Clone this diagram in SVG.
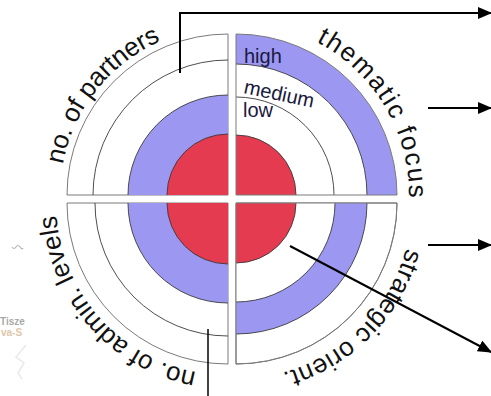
<svg xmlns="http://www.w3.org/2000/svg" width="491" height="396" viewBox="0 0 491 396">
<style>
.q{fill:#fff;stroke:#7a7a7a;stroke-width:1}
.blue{fill:#9c98f2}
.red{fill:#e53b51}
.arc{fill:none;stroke:#3a3a3a;stroke-width:0.9}
.lbl{font-family:"Liberation Sans",Arial,sans-serif;font-size:26px;fill:#111}
.sm{font-family:"Liberation Sans",Arial,sans-serif;font-size:20px;fill:#1a1a40}
.con{fill:none;stroke:#000;stroke-width:2}
.faint{font-family:"Liberation Sans",Arial,sans-serif;font-size:10px;font-weight:bold}
</style>
<defs>
<marker id="ah" markerUnits="userSpaceOnUse" markerWidth="14" markerHeight="12" refX="13" refY="6" orient="auto">
<path d="M0,0 L14,6 L0,12 Z" fill="#000"/>
</marker>
<path id="tp1" d="M62.8,164.4 A168,168 0 0 1 242.6,27.6"/>
<path id="tp2" d="M316.2,41.7 A173,173 0 0 1 398.6,254.2"/>
<path id="tp3" d="M406.1,248.3 A176,176 0 0 1 205.4,376.3"/>
<path id="tp4" d="M196.4,372.1 A172,172 0 0 1 56.7,188"/>
</defs>

<g id="background-fragments" opacity="0.75">
<path d="M12,247 q2,3 4,0 q2,-3 4,0 q2,3 3,1" fill="none" stroke="#9a9a9a" stroke-width="1.2"/>
<text class="faint" x="0" y="325" fill="#8c8c8c">Tisze</text>
<text class="faint" x="1" y="336" fill="#d2b48c">va-S</text>
<path d="M26,345 l-10,12 l8,6 l-6,10 l4,6" fill="none" stroke="#e2e2e2" stroke-width="1.5"/>
</g>

<g id="quadrant-partners" transform="translate(228,195)">
<path class="q" d="M0,0 H-161 A161,161 0 0 1 0,-161 Z"/>
<path class="arc" d="M-135,0 A135,135 0 0 1 0,-135"/>
<path class="blue" d="M0,0 H-100 A100,100 0 0 1 0,-100 Z"/>
<path class="arc" d="M-100,0 A100,100 0 0 1 0,-100"/>
<path class="red" d="M0,0 H-61 A61,61 0 0 1 0,-61 Z"/>
<path class="arc" d="M-61,0 A61,61 0 0 1 0,-61"/>
</g>

<g id="quadrant-thematic" transform="translate(236,195) scale(-1,1)">
<path class="blue" d="M0,0 H-161 A161,161 0 0 1 0,-161 Z"/>
<path d="M0,0 H-131 A131,131 0 0 1 0,-131 Z" fill="#fff"/>
<path class="arc" d="M-131,0 A131,131 0 0 1 0,-131"/>
<path class="arc" d="M-98,0 A98,98 0 0 1 0,-98"/>
<path class="red" d="M0,0 H-60 A60,60 0 0 1 0,-60 Z"/>
<path class="arc" d="M-60,0 A60,60 0 0 1 0,-60"/>
<path d="M0,0 H-161 A161,161 0 0 1 0,-161 Z" fill="none" stroke="#7a7a7a" stroke-width="1"/>
</g>

<g id="quadrant-admin" transform="translate(228,203) scale(1,-1)">
<path class="q" d="M0,0 H-161 A161,161 0 0 1 0,-161 Z"/>
<path class="arc" d="M-133,0 A133,133 0 0 1 0,-133"/>
<path class="blue" d="M0,0 H-100 A100,100 0 0 1 0,-100 Z"/>
<path class="arc" d="M-100,0 A100,100 0 0 1 0,-100"/>
<path class="red" d="M0,0 H-61 A61,61 0 0 1 0,-61 Z"/>
<path class="arc" d="M-61,0 A61,61 0 0 1 0,-61"/>
</g>

<g id="quadrant-strategic" transform="translate(236,203) scale(-1,-1)">
<path class="q" d="M0,0 H-161 A161,161 0 0 1 0,-161 Z"/>
<path class="blue" d="M0,0 H-131 A131,131 0 0 1 0,-131 Z"/>
<path class="arc" d="M-131,0 A131,131 0 0 1 0,-131"/>
<path d="M0,0 H-99 A99,99 0 0 1 0,-99 Z" fill="#fff"/>
<path class="arc" d="M-99,0 A99,99 0 0 1 0,-99"/>
<path class="red" d="M0,0 H-60 A60,60 0 0 1 0,-60 Z"/>
<path class="arc" d="M-60,0 A60,60 0 0 1 0,-60"/>
<path d="M0,0 H-161 A161,161 0 0 1 0,-161 Z" fill="none" stroke="#7a7a7a" stroke-width="1"/>
</g>

<g id="labels">
<text class="lbl"><textPath href="#tp1" textLength="164" lengthAdjust="spacing">no. of partners</textPath></text>
<text class="lbl"><textPath href="#tp2" textLength="191" lengthAdjust="spacing">thematic focus</textPath></text>
<text class="lbl"><textPath href="#tp3" textLength="184" lengthAdjust="spacing">strategic orient.</textPath></text>
<text class="lbl"><textPath href="#tp4" textLength="226" lengthAdjust="spacing">no. of admin. levels</textPath></text>
<text class="sm" x="244" y="63">high</text>
<text class="sm" x="243" y="93" transform="rotate(12 243 93)">medium</text>
<text class="sm" x="243" y="117">low</text>
</g>

<g id="connectors">
<polyline class="con" points="180,73 180,13 491,13" marker-end="url(#ah)"/>
<line class="con" x1="428" y1="108" x2="491" y2="108" marker-end="url(#ah)"/>
<line class="con" x1="428" y1="245" x2="491" y2="245" marker-end="url(#ah)"/>
<line class="con" x1="290" y1="246" x2="491" y2="352" marker-end="url(#ah)"/>
<line x1="208" y1="329" x2="208" y2="396" stroke="#000" stroke-width="1.5"/>
</g>
</svg>
